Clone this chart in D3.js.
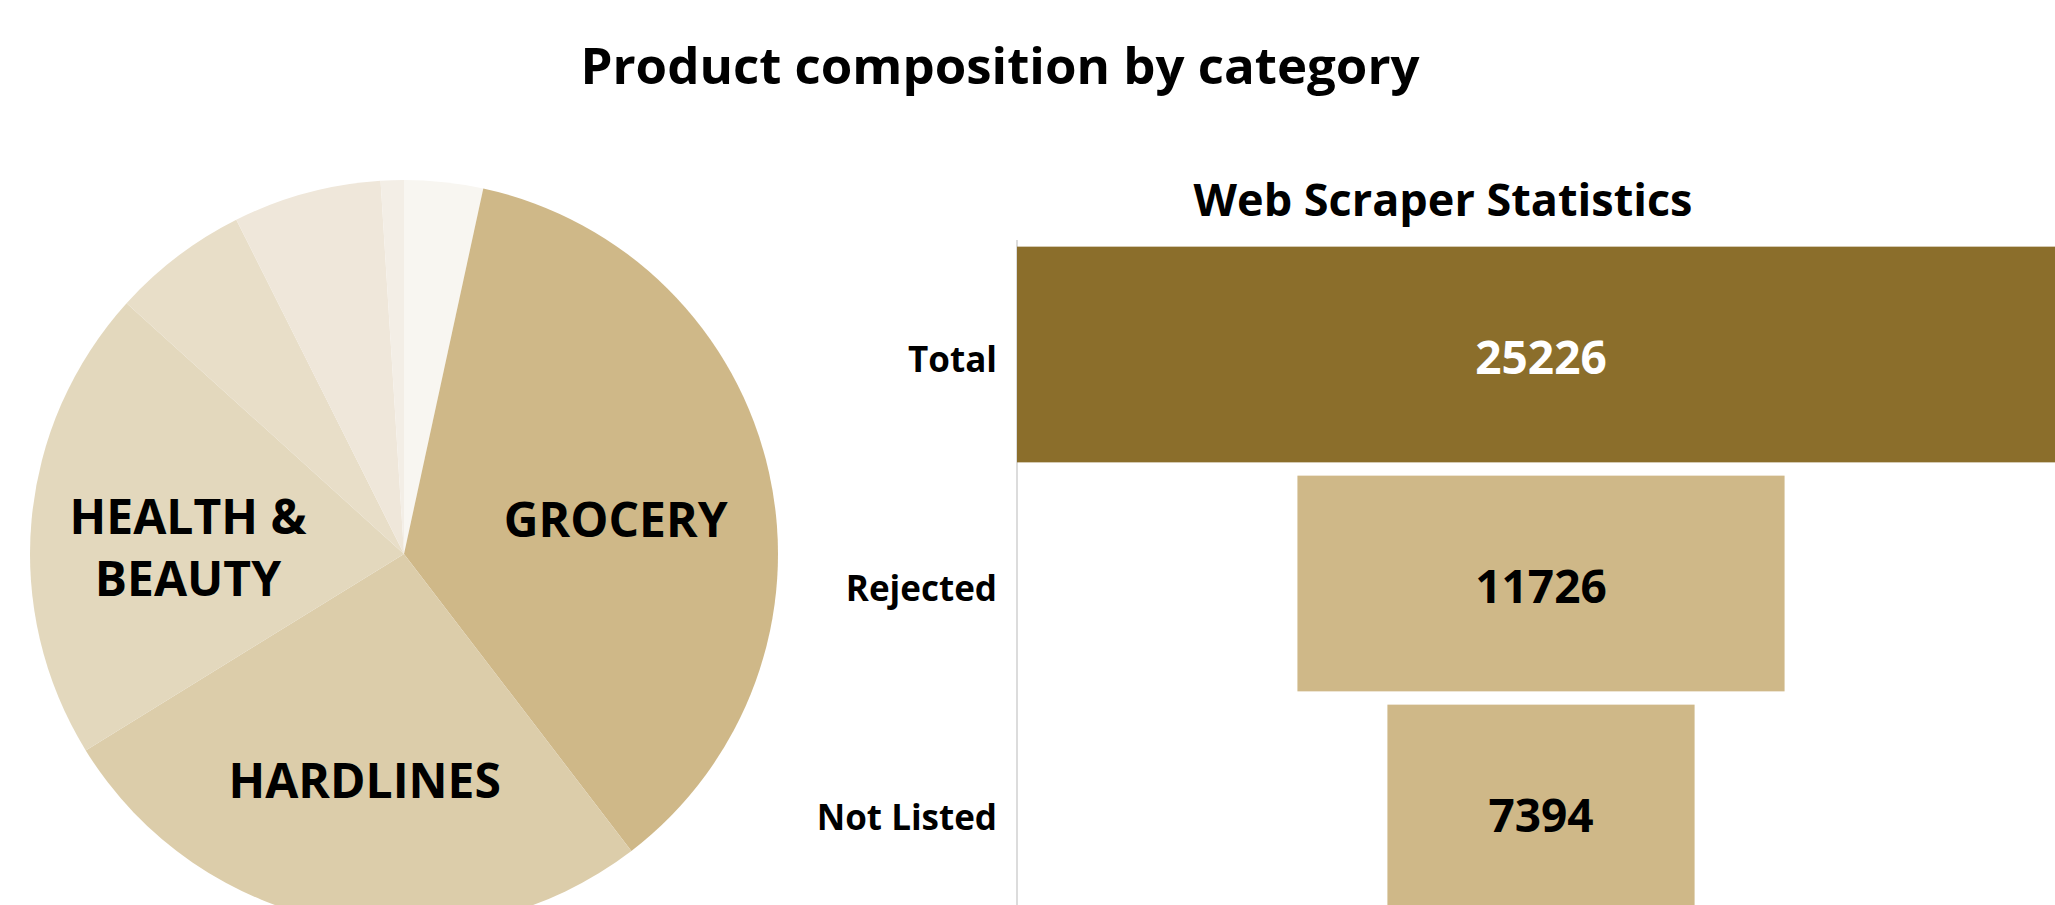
<!DOCTYPE html>
<html>
<head>
<meta charset="utf-8">
<script src="https://cdn.jsdelivr.net/npm/d3@7"></script>
<style>
  body { margin: 0; background: #fff; }
  text { font-family: 'Open Sans', 'Noto Sans', sans-serif; font-weight: 700; }
</style>
</head>
<body>
<div id="container"></div>
<script>
const width = 2055
const height = 905

// pie data, clockwise from 12 o'clock
const categories = ['OTHER', 'GROCERY', 'HARDLINES', 'HEALTH & BEAUTY', 'HOME', 'APPAREL', 'TOYS']
const shares = [3.4, 36.2, 26.6, 20.5, 5.9, 6.4, 1.0]
const sliceColors = ['#f8f6f1', '#cfb888', '#dccdaa', '#e3d8bd', '#e8dec8', '#efe7da', '#f3eee6']

// funnel data
const stages = ['Total', 'Rejected', 'Not Listed']
const counts = [25226, 11726, 7394]
const stageColors = ['#8b6e2b', '#cfb888', '#cfb888']

const svg = d3.select('#container')
  .append('svg')
  .attr('width', width)
  .attr('height', height)

svg.append('text')
  .attr('x', 1000)
  .attr('y', 84)
  .attr('text-anchor', 'middle')
  .attr('font-size', 51)
  .text('Product composition by category')

// ---- pie ----
const cx = 404
const cy = 554
const radius = 374

const pie = d3.pie().sort(null).value(d => d)
const arcs = pie(shares)
const arc = d3.arc().innerRadius(0).outerRadius(radius)
const labelArc = d3.arc().innerRadius(radius * 0.58).outerRadius(radius * 0.58)

const pieG = svg.append('g').attr('transform', `translate(${cx},${cy})`)

pieG.selectAll('path')
  .data(arcs)
  .enter()
  .append('path')
  .attr('d', arc)
  .attr('fill', (d, i) => sliceColors[i])

// only the big slices get a label
const labels = pieG.selectAll('text.slice')
  .data(arcs.filter(d => d.endAngle - d.startAngle > 0.8))
  .enter()
  .append('text')
  .attr('class', 'slice')
  .attr('text-anchor', 'middle')
  .attr('font-size', 48)
  .attr('fill', '#000')
  .attr('transform', d => `translate(${labelArc.centroid(d)})`)

labels.each(function (d) {
  const name = categories[d.index]
  const lines = name.length > 12 ? [name.slice(0, name.indexOf('&') + 1), name.slice(name.indexOf('&') + 2)] : [name]
  const t = d3.select(this)
  lines.forEach((line, k) => {
    t.append('tspan')
      .attr('x', 0)
      .attr('dy', k === 0 ? `${0.64 - (lines.length - 1) * 0.655}em` : '1.31em')
      .text(line)
  })
})

// ---- funnel ----
const axisX = 1017
const centerX = 1541

svg.append('text')
  .attr('x', 1443)
  .attr('y', 216)
  .attr('text-anchor', 'middle')
  .attr('font-size', 45)
  .text('Web Scraper Statistics')

const y = d3.scaleBand()
  .domain(stages)
  .range([240, 927])
  .paddingInner(0.058)
  .paddingOuter(0.029)

const w = d3.scaleLinear()
  .domain([0, d3.max(counts)])
  .range([0, 1048])

svg.append('line')
  .attr('x1', axisX)
  .attr('x2', axisX)
  .attr('y1', 240)
  .attr('y2', height)
  .attr('stroke', '#dcdcdc')
  .attr('stroke-width', 2)

const rows = svg.selectAll('g.stage')
  .data(stages)
  .enter()
  .append('g')
  .attr('class', 'stage')

rows.append('rect')
  .attr('x', (d, i) => centerX - w(counts[i]) / 2)
  .attr('y', d => y(d))
  .attr('width', (d, i) => w(counts[i]))
  .attr('height', y.bandwidth())
  .attr('fill', (d, i) => stageColors[i])

rows.append('text')
  .attr('x', centerX)
  .attr('y', d => y(d) + y.bandwidth() / 2)
  .attr('dy', '0.42em')
  .attr('text-anchor', 'middle')
  .attr('font-size', 46)
  .attr('fill', (d, i) => i === 0 ? '#fff' : '#000')
  .text((d, i) => counts[i])

rows.append('text')
  .attr('x', axisX - 20)
  .attr('y', d => y(d) + y.bandwidth() / 2)
  .attr('dy', '0.5em')
  .attr('text-anchor', 'end')
  .attr('font-size', 35)
  .attr('fill', '#000')
  .text(d => d)
</script>
</body>
</html>
